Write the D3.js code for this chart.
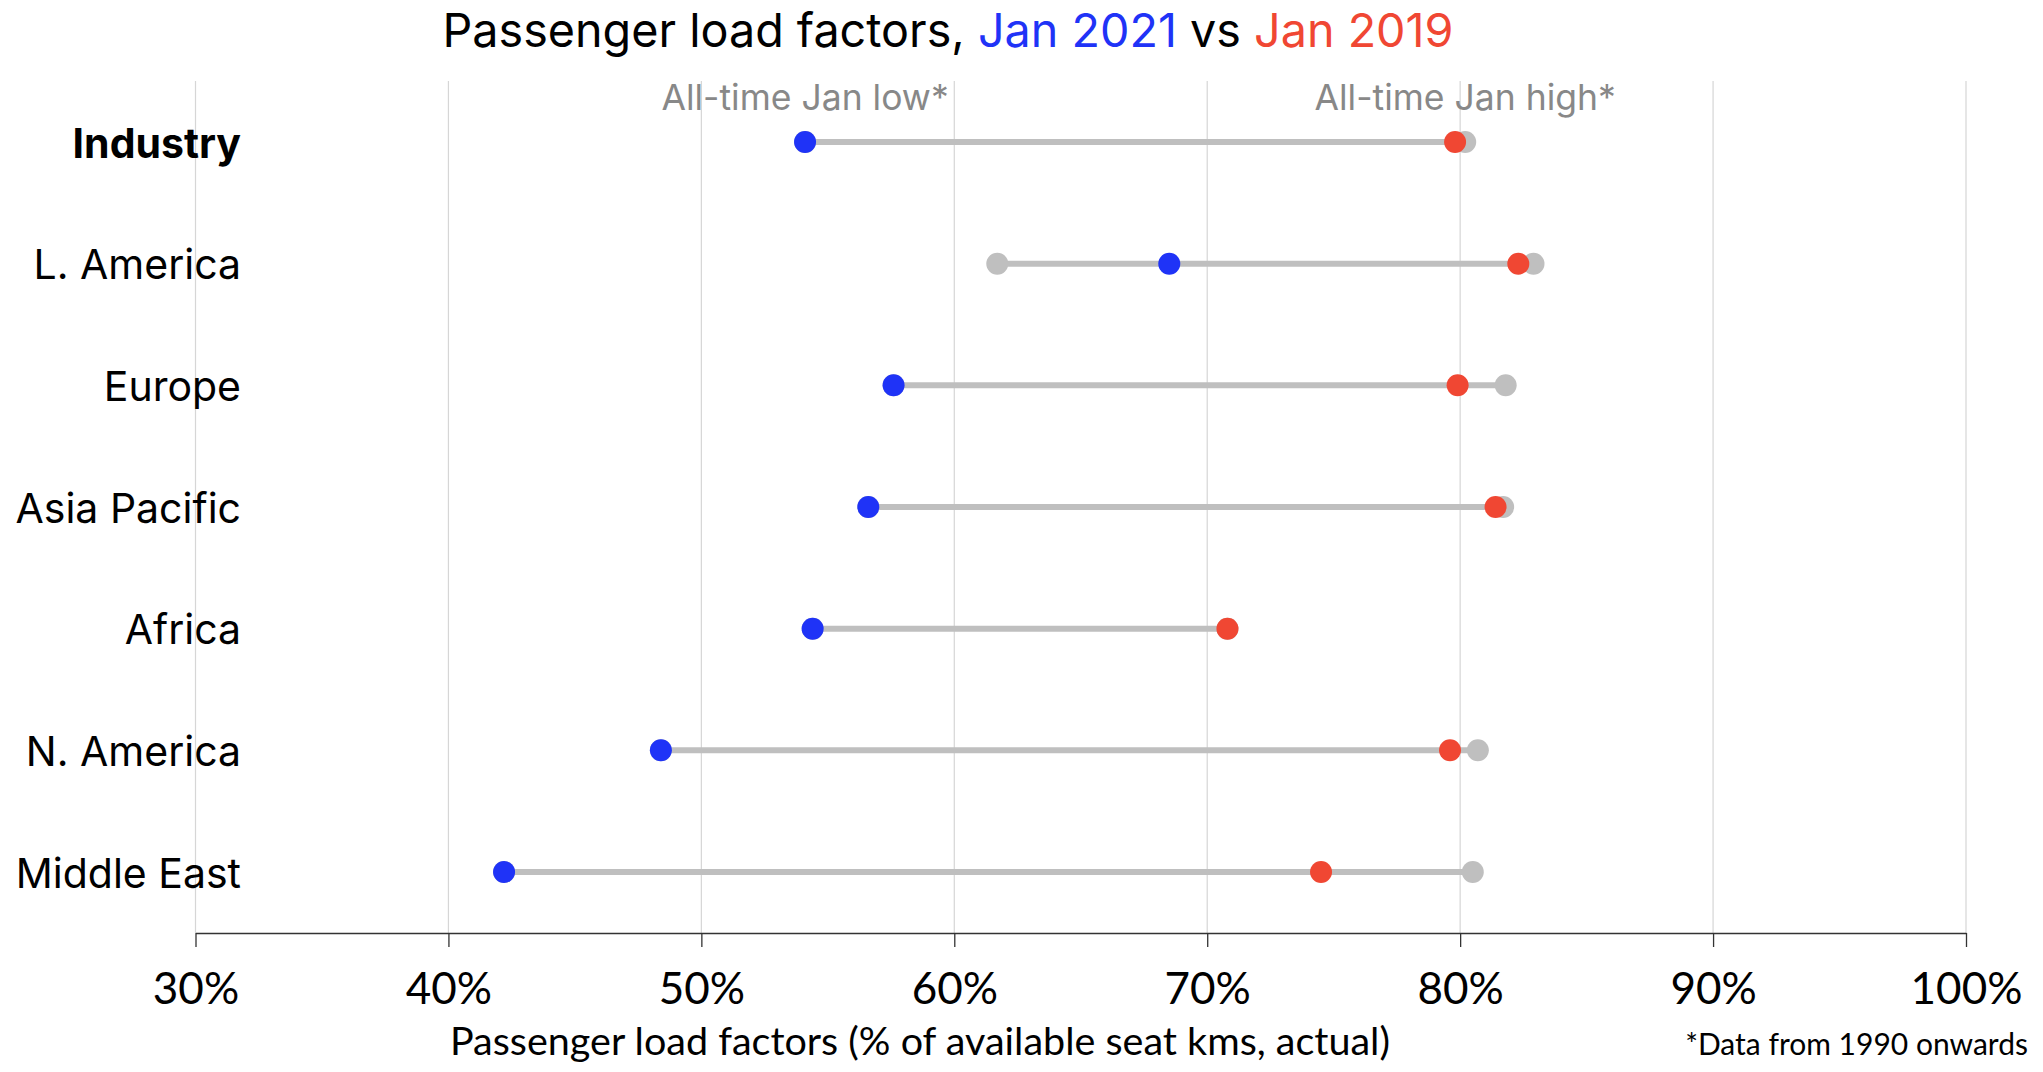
<!DOCTYPE html>
<html>
<head>
<meta charset="utf-8">
<script src="https://cdn.jsdelivr.net/npm/d3@7"></script>
<style>
  html, body { margin: 0; padding: 0; background: #fff; }
  svg { display: block; }
</style>
</head>
<body>
<svg id="chart" width="2043" height="1072"></svg>
<script>
// ---- Data ----
const categories = ["Industry", "L. America", "Europe", "Asia Pacific", "Africa", "N. America", "Middle East"];
const jan2021     = [54.1, 68.5, 57.6, 56.6, 54.4, 48.4, 42.2];
const jan2019     = [79.8, 82.3, 79.9, 81.4, 70.8, 79.6, 74.5];
const allTimeLow  = [54.1, 61.7, 57.6, 56.6, 54.4, 48.4, 42.2];
const allTimeHigh = [80.2, 82.9, 81.8, 81.7, 70.8, 80.7, 80.5];
const tickValues  = [30, 40, 50, 60, 70, 80, 90, 100];

const BLUE = "#1f33f7", RED = "#f04733", GRAY = "#bfbfbf";

const svg = d3.select("#chart");
const x = d3.scaleLinear().domain([30, 100]).range([195.5, 1966]);
const y = d3.scalePoint().domain(categories).range([142, 872]);
const axisY = 933, gridTop = 81;

// grid
svg.append("g").selectAll("line").data(tickValues).join("line")
  .attr("x1", d => x(d)).attr("x2", d => x(d))
  .attr("y1", gridTop).attr("y2", axisY)
  .attr("stroke", "#d6d6d6").attr("stroke-width", 1.2);

// x axis
const ax = svg.append("g").attr("transform", `translate(0,${axisY})`)
  .call(d3.axisBottom(x).tickValues(tickValues).tickFormat(d => d + "%").tickSize(14).tickPadding(26).tickSizeOuter(0));
ax.select(".domain").attr("stroke", "#333").attr("stroke-width", 1.5);
ax.selectAll(".tick line").attr("stroke", "#333").attr("stroke-width", 1.3);
ax.selectAll(".tick text").attr("font-family", "Lato, 'Open Sans', sans-serif")
  .attr("font-size", 44).attr("fill", "#000");

// axis title
svg.append("text").attr("x", 920).attr("y", 1055).attr("text-anchor", "middle")
  .attr("font-family", "Lato, 'Open Sans', sans-serif").attr("font-size", 39.5).attr("fill", "#000")
  .text("Passenger load factors (% of available seat kms, actual)");

// footnote
svg.append("text").attr("x", 2028).attr("y", 1055).attr("text-anchor", "end")
  .attr("font-family", "Lato, 'Open Sans', sans-serif").attr("font-size", 30).attr("fill", "#000")
  .text("*Data from 1990 onwards");

// title
const title = svg.append("text").attr("x", 948).attr("y", 47).attr("text-anchor", "middle")
  .attr("font-family", "Inter, 'Noto Sans', sans-serif").attr("font-size", 46.7).attr("fill", "#000");
title.append("tspan").text("Passenger load factors, ");
title.append("tspan").attr("fill", BLUE).text("Jan 2021");
title.append("tspan").text(" vs ");
title.append("tspan").attr("fill", RED).text("Jan 2019");

// annotation labels
svg.append("text").attr("x", x(allTimeLow[0])).attr("y", 110).attr("text-anchor", "middle")
  .attr("font-family", "Inter, 'Noto Sans', sans-serif").attr("font-size", 35.5).attr("fill", "#888")
  .text("All-time Jan low*");
svg.append("text").attr("x", x(allTimeHigh[0])).attr("y", 110).attr("text-anchor", "middle")
  .attr("font-family", "Inter, 'Noto Sans', sans-serif").attr("font-size", 35.5).attr("fill", "#888")
  .text("All-time Jan high*");

// category labels
svg.append("g").selectAll("text").data(categories).join("text")
  .attr("x", 241).attr("y", d => y(d) + 15.5).attr("text-anchor", "end")
  .attr("font-family", "Inter, 'Noto Sans', sans-serif").attr("font-size", 41)
  .attr("font-weight", (d, i) => i === 0 ? 700 : 400).attr("fill", "#000")
  .text(d => d);

// rows
const rows = categories.map((c, i) => ({
  c, lo: allTimeLow[i], hi: allTimeHigh[i], a: jan2021[i], b: jan2019[i]
}));
const R = 11;
const g = svg.append("g");
g.selectAll("line.range").data(rows).join("line").attr("class", "range")
  .attr("x1", d => x(Math.min(d.lo, d.a, d.b))).attr("x2", d => x(Math.max(d.hi, d.a, d.b)))
  .attr("y1", d => y(d.c)).attr("y2", d => y(d.c))
  .attr("stroke", GRAY).attr("stroke-width", 6);
g.selectAll("circle.lo").data(rows).join("circle").attr("class", "lo")
  .attr("cx", d => x(d.lo)).attr("cy", d => y(d.c)).attr("r", R).attr("fill", GRAY);
g.selectAll("circle.hi").data(rows).join("circle").attr("class", "hi")
  .attr("cx", d => x(d.hi)).attr("cy", d => y(d.c)).attr("r", R).attr("fill", GRAY);
g.selectAll("circle.b").data(rows).join("circle").attr("class", "b")
  .attr("cx", d => x(d.b)).attr("cy", d => y(d.c)).attr("r", R).attr("fill", RED);
g.selectAll("circle.a").data(rows).join("circle").attr("class", "a")
  .attr("cx", d => x(d.a)).attr("cy", d => y(d.c)).attr("r", R).attr("fill", BLUE);
</script>
</body>
</html>
